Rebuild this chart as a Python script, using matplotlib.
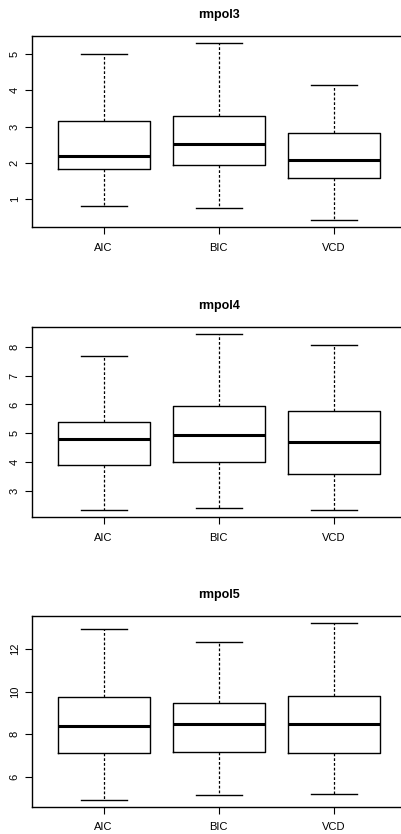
import numpy as np
from matplotlib import pyplot as plt

plt.rcParams["font.family"] = ["Liberation Sans", "DejaVu Sans"]

# box statistics: lower whisker, Q1, median, Q3, upper whisker
methods = ["AIC", "BIC", "VCD"]
titles = ["rmpol3", "rmpol4", "rmpol5"]

rmpol3 = [[0.82, 1.84, 2.20, 3.15, 5.00],
          [0.77, 1.94, 2.51, 3.28, 5.30],
          [0.42, 1.58, 2.08, 2.82, 4.15]]
rmpol4 = [[2.33, 3.90, 4.79, 5.39, 7.68],
          [2.42, 4.02, 4.94, 5.94, 8.45],
          [2.33, 3.57, 4.70, 5.77, 8.06]]
rmpol5 = [[4.90, 7.09, 8.36, 9.72, 12.94],
          [5.14, 7.17, 8.46, 9.48, 12.31],
          [5.20, 7.12, 8.49, 9.78, 13.22]]
yticks = [[1, 2, 3, 4, 5], [3, 4, 5, 6, 7, 8], [6, 8, 10, 12]]

W, H = 402, 834
fig = plt.figure(figsize=(W / 100, H / 100), dpi=100)

# axes boxes in pixels: (top, bottom); the right edge falls just off the page
panels = [(36, 227.3), (326.7, 517.3), (616, 807)]
left_px, right_px = 32.3, 405

for (top, bot), title, data, ticks in zip(panels, titles,
                                         [rmpol3, rmpol4, rmpol5], yticks):
    ax = fig.add_axes([left_px / W, 1 - bot / H,
                       (right_px - left_px) / W, (bot - top) / H])
    stats = []
    for name, (lo, q1, med, q3, hi) in zip(methods, data):
        stats.append(dict(label=name, whislo=lo, q1=q1, med=med,
                          q3=q3, whishi=hi, fliers=[]))
    ax.bxp(stats, positions=[1, 2, 3], widths=0.8, showfliers=False,
           boxprops=dict(color="black", lw=1.0),
           medianprops=dict(color="black", lw=2.2, solid_capstyle="butt"),
           whiskerprops=dict(color="black", lw=0.9, linestyle=(0, (2.2, 1.6))),
           capprops=dict(color="black", lw=1.0), capwidths=0.4)

    lo = min(d[0] for d in data)
    hi = max(d[4] for d in data)
    r = hi - lo
    ax.set_ylim(lo - 0.04 * r, hi + 0.04 * r)
    ax.set_xlim(0.38, 3.62)
    ax.set_yticks(ticks)
    ax.set_yticklabels([str(t) for t in ticks], rotation=90, va="center")
    ax.set_xticks([1, 2, 3])
    ax.set_xticklabels(methods)
    ax.tick_params(axis="both", length=5, width=0.8, labelsize=8)
    ax.tick_params(axis="x", pad=6)
    ax.tick_params(axis="y", pad=4)
    for s in ax.spines.values():
        s.set_linewidth(1.0)
    ax.spines["right"].set_visible(False)
    ax.set_title(title, fontsize=9, fontweight="bold", pad=13)

plt.savefig("out.png", dpi=100)
